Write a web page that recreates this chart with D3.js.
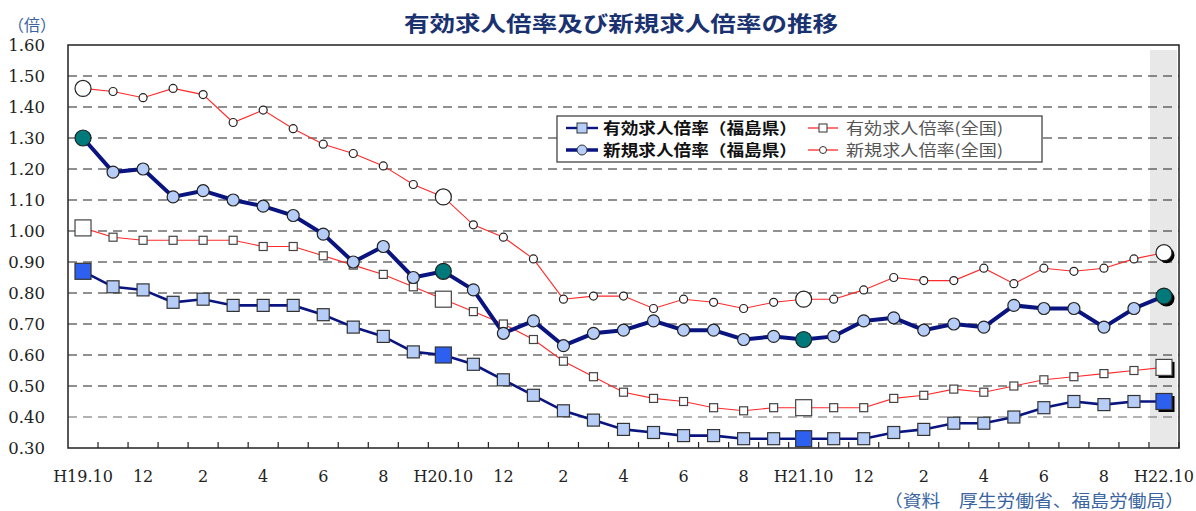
<!DOCTYPE html>
<html><head><meta charset="utf-8">
<script src="https://cdn.jsdelivr.net/npm/d3@7"></script>
<style>body{margin:0;background:#fff}svg{display:block}</style>
</head><body>
<svg id="c" width="1196" height="511"></svg>
<script>
const months = ["H19.10","11","12","1","2","3","4","5","6","7","8","9",
  "H20.10","11","12","1","2","3","4","5","6","7","8","9",
  "H21.10","11","12","1","2","3","4","5","6","7","8","9","H22.10"];
const fukuYuko = [0.87,0.82,0.81,0.77,0.78,0.76,0.76,0.76,0.73,0.69,0.66,0.61,
  0.60,0.57,0.52,0.47,0.42,0.39,0.36,0.35,0.34,0.34,0.33,0.33,
  0.33,0.33,0.33,0.35,0.36,0.38,0.38,0.40,0.43,0.45,0.44,0.45,0.45];
const fukuShinki = [1.30,1.19,1.20,1.11,1.13,1.10,1.08,1.05,0.99,0.90,0.95,0.85,
  0.87,0.81,0.67,0.71,0.63,0.67,0.68,0.71,0.68,0.68,0.65,0.66,
  0.65,0.66,0.71,0.72,0.68,0.70,0.69,0.76,0.75,0.75,0.69,0.75,0.79];
const zenYuko = [1.01,0.98,0.97,0.97,0.97,0.97,0.95,0.95,0.92,0.89,0.86,0.82,
  0.78,0.74,0.70,0.65,0.58,0.53,0.48,0.46,0.45,0.43,0.42,0.43,
  0.43,0.43,0.43,0.46,0.47,0.49,0.48,0.50,0.52,0.53,0.54,0.55,0.56];
const zenShinki = [1.46,1.45,1.43,1.46,1.44,1.35,1.39,1.33,1.28,1.25,1.21,1.15,
  1.11,1.02,0.98,0.91,0.78,0.79,0.79,0.75,0.78,0.77,0.75,0.77,
  0.78,0.78,0.81,0.85,0.84,0.84,0.88,0.83,0.88,0.87,0.88,0.91,0.93];
const yTicks = [0.30,0.40,0.50,0.60,0.70,0.80,0.90,1.00,1.10,1.20,1.30,1.40,1.50,1.60];
const xLabelIdx = [0,2,4,6,8,10,12,14,16,18,20,22,24,26,28,30,32,34,36];
const highlightIdx = [0,12,24,36];
const legendNames = ["有効求人倍率（福島県）","新規求人倍率（福島県）","有効求人倍率(全国)","新規求人倍率(全国)"];

const L=68, R=1179, T=45, B=448;
const svg = d3.select("#c");
const keys = d3.range(months.length);
const x = d3.scaleBand().domain(keys).range([L,R]).padding(0);
const cx = i => x(i) + x.bandwidth()/2;
const y = d3.scaleLinear().domain([0.3,1.6]).range([B,T]);
const serif = "'DejaVu Serif','Liberation Serif',serif";
const cjk = "'Noto Sans CJK JP',sans-serif";

// shaded last band
svg.append("rect").attr("x", x(36)+1).attr("y", 50).attr("width", x.bandwidth()-3).attr("height", B-50).attr("fill","#e8e8e8");

// grid
svg.append("g").selectAll("line").data(yTicks.filter(v=>v>0.31 && v<1.59)).join("line")
  .attr("x1",L).attr("x2",R).attr("y1",d=>y(d)).attr("y2",d=>y(d))
  .attr("stroke",d=>d<0.45?"#666":"#222").attr("stroke-width",1.2).attr("stroke-dasharray","9,6");

// frame
svg.append("rect").attr("x",L).attr("y",T).attr("width",R-L).attr("height",B-T)
  .attr("fill","none").attr("stroke","#222").attr("stroke-width",1.5);

// y axis
const ya = svg.append("g").attr("transform",`translate(${L},0)`)
  .call(d3.axisLeft(y).tickValues(yTicks).tickSize(0).tickPadding(23).tickFormat(d3.format(".2f")));
ya.select(".domain").remove();
ya.selectAll("text").attr("font-family",serif).attr("font-size",16.5).attr("fill","#222");

// x ticks (band boundaries)
const xt = svg.append("g").attr("transform",`translate(${x.bandwidth()/2},${B})`)
  .call(d3.axisBottom(x).tickSize(-6).tickFormat(""));
xt.select(".domain").remove();
xt.selectAll("line").attr("stroke","#222").attr("stroke-width",1.2);

// x labels
const xl = svg.append("g").attr("transform",`translate(0,${B})`)
  .call(d3.axisBottom(x).tickValues(xLabelIdx).tickSize(0).tickPadding(23).tickFormat(i=>months[i]));
xl.select(".domain").remove();
xl.selectAll("text").attr("font-family",serif).attr("font-size",16).attr("fill","#222");

const line = d3.line().x((d,i)=>cx(i)).y(d=>y(d));
const RED="#ff2a2a", NAVY="#0a1480";

// lines
svg.append("path").datum(zenShinki).attr("d",line).attr("fill","none").attr("stroke",RED).attr("stroke-width",1.1);
svg.append("path").datum(zenYuko).attr("d",line).attr("fill","none").attr("stroke",RED).attr("stroke-width",1.1);
svg.append("path").datum(fukuYuko).attr("d",line).attr("fill","none").attr("stroke",NAVY).attr("stroke-width",2.6);
svg.append("path").datum(fukuShinki).attr("d",line).attr("fill","none").attr("stroke",NAVY).attr("stroke-width",4);

function squares(data, small, big, fill, bigFill, stroke){
  const g = svg.append("g");
  data.forEach((v,i)=>{
    const hl = highlightIdx.includes(i);
    const s = hl?big:small;
    if(i===36){
      g.append("rect").attr("x",cx(i)-s/2+2.5).attr("y",y(v)-s/2+2.5).attr("width",s).attr("height",s).attr("fill","#000");
    }
    g.append("rect").attr("x",cx(i)-s/2).attr("y",y(v)-s/2).attr("width",s).attr("height",s)
      .attr("fill",hl?bigFill:fill).attr("stroke",stroke).attr("stroke-width",1.2);
  });
}
function circles(data, small, big, fill, bigFill, stroke){
  const g = svg.append("g");
  data.forEach((v,i)=>{
    const hl = highlightIdx.includes(i);
    const r = hl?big:small;
    if(i===36){
      g.append("circle").attr("cx",cx(i)+2.5).attr("cy",y(v)+2.5).attr("r",r).attr("fill","#000");
    }
    g.append("circle").attr("cx",cx(i)).attr("cy",y(v)).attr("r",r)
      .attr("fill",hl?bigFill:fill).attr("stroke",stroke).attr("stroke-width",1.2);
  });
}
circles(zenShinki, 4, 8, "#fff", "#fff", "#222");
squares(zenYuko, 8, 16, "#fff", "#fff", "#444");
squares(fukuYuko, 12, 16, "#b5cdf7", "#2d60ee", "#333");
circles(fukuShinki, 6, 8, "#b5cdf7", "#00797a", "#222");

// legend
const lg = svg.append("g");
lg.append("rect").attr("x",557).attr("y",116).attr("width",485).attr("height",46).attr("fill","#fff").attr("stroke","#444").attr("stroke-width",1.3);
const rows = [128,150];
lg.append("line").attr("x1",566).attr("x2",598).attr("y1",rows[0]).attr("y2",rows[0]).attr("stroke",NAVY).attr("stroke-width",2.4);
lg.append("rect").attr("x",577).attr("y",rows[0]-5).attr("width",10).attr("height",10).attr("fill","#b5cdf7").attr("stroke","#333");
lg.append("line").attr("x1",566).attr("x2",598).attr("y1",rows[1]).attr("y2",rows[1]).attr("stroke",NAVY).attr("stroke-width",3.5);
lg.append("circle").attr("cx",582).attr("cy",rows[1]).attr("r",5).attr("fill","#b5cdf7").attr("stroke","#333");
lg.append("line").attr("x1",808).attr("x2",838).attr("y1",rows[0]).attr("y2",rows[0]).attr("stroke",RED).attr("stroke-width",1.3);
lg.append("rect").attr("x",819).attr("y",rows[0]-4).attr("width",8).attr("height",8).attr("fill","#fff").attr("stroke","#333");
lg.append("line").attr("x1",808).attr("x2",838).attr("y1",rows[1]).attr("y2",rows[1]).attr("stroke",RED).attr("stroke-width",1.3);
lg.append("circle").attr("cx",823).attr("cy",rows[1]).attr("r",3.5).attr("fill","#fff").attr("stroke","#333");
const lt = [[603,rows[0],legendNames[0],194,"bold","#111"],[603,rows[1],legendNames[1],194,"bold","#111"],
  [846,rows[0],legendNames[2],157,"normal","#555"],[846,rows[1],legendNames[3],157,"normal","#555"]];
lt.forEach(([tx,ty,t,w,fw,col])=>{
  lg.append("text").attr("x",tx).attr("y",ty).attr("dy","0.36em").text(t)
    .attr("font-family",cjk).attr("font-size",15.5).attr("font-weight",fw).attr("fill",col)
    .attr("textLength",w).attr("lengthAdjust","spacingAndGlyphs");
});

// title and notes
svg.append("text").attr("x",621).attr("y",23).attr("dy","0.36em").attr("text-anchor","middle")
  .text("有効求人倍率及び新規求人倍率の推移").attr("font-family",cjk).attr("font-size",21).attr("font-weight","bold")
  .attr("fill","#1a3270").attr("textLength",434).attr("lengthAdjust","spacingAndGlyphs");
svg.append("text").attr("x",8).attr("y",25).attr("dy","0.36em").text("（倍）")
  .attr("font-family",cjk).attr("font-size",16).attr("fill","#3a64a0");
svg.append("text").attr("x",884).attr("y",501).attr("dy","0.36em").text("（資料　厚生労働省、福島労働局）")
  .attr("font-family",cjk).attr("font-size",16.5).attr("fill","#3a64a0").attr("textLength",300).attr("lengthAdjust","spacingAndGlyphs");
</script>
</body></html>
